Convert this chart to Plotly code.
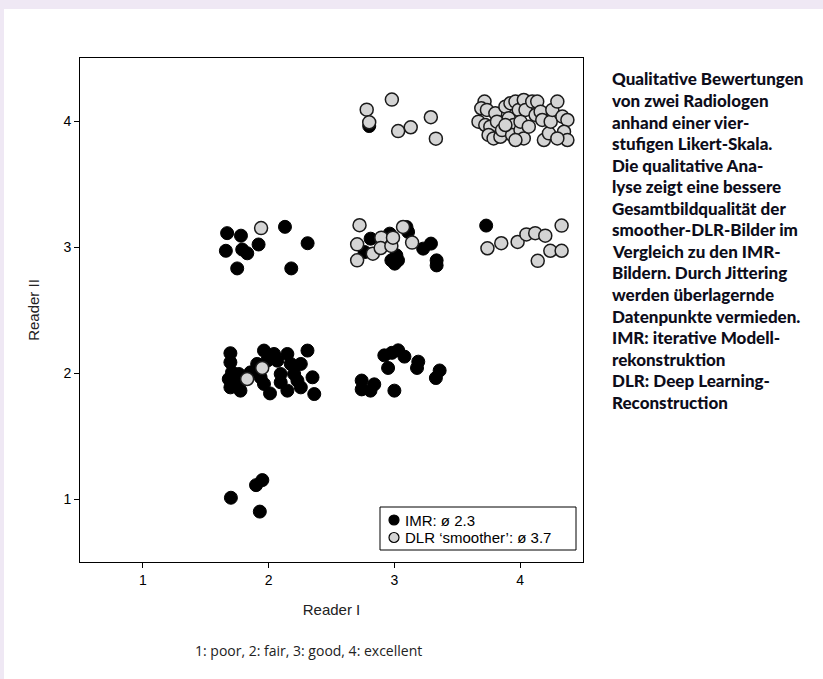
import plotly.graph_objects as go

# ---- data ----
imr_x = [1.70, 1.90, 1.95, 1.93,
         1.67, 1.78, 1.66, 1.79, 1.83, 1.92, 2.13, 2.31, 1.75, 2.18,
         1.696, 1.696, 1.709, 1.723, 1.696, 1.776, 1.763, 1.856, 1.909, 1.963, 1.989, 1.936, 1.963, 2.011,
         2.043, 2.096, 2.149, 2.176, 2.203, 2.229, 2.256, 2.309, 2.349, 2.363, 2.096, 2.149, 2.256, 2.069,
         1.776, 1.683,
         2.92, 2.98, 3.03, 3.08, 2.95, 3.19, 3.18, 3.36, 3.33, 2.74, 2.74, 2.84, 2.81, 3.00,
         2.811, 2.763, 2.963, 3.109, 2.976, 3.029, 3.016, 3.229, 3.291, 3.336, 3.336, 3.003, 3.096,
         3.73, 2.80]
imr_y = [1.01, 1.11, 1.15, 0.90,
         3.11, 3.09, 2.97, 2.98, 2.95, 3.02, 3.16, 3.03, 2.83, 2.83,
         2.157, 2.085, 2.005, 1.966, 1.886, 1.860, 1.992, 2.005, 2.072, 2.178, 2.098, 1.966, 1.913, 1.838,
         2.151, 1.992, 2.151, 2.072, 1.992, 1.939, 1.886, 2.178, 1.966, 1.833, 1.926, 1.860, 2.072, 2.098,
         1.939, 1.952,
         2.14, 2.16, 2.18, 2.13, 2.04, 2.09, 2.04, 2.02, 1.96, 1.94, 1.87, 1.91, 1.86, 1.86,
         3.066, 2.960, 3.106, 3.120, 2.894, 2.894, 2.934, 2.987, 3.027, 2.894, 2.854, 2.868, 3.159,
         3.17, 3.96]

dlr_x = [1.829, 1.949, 1.94,
         2.723, 2.704, 2.704, 2.829, 2.896, 2.891, 2.976, 2.989, 3.069, 3.141,
         3.74, 3.85, 3.98, 4.05, 4.12, 4.20, 4.33, 4.24, 4.33, 4.14,
         2.78, 2.80, 2.98, 3.03, 3.13, 3.29, 3.33,
         3.717, 3.691, 3.736, 3.669, 3.723, 3.763, 3.749, 3.803, 3.816, 3.789, 3.843, 3.856, 3.883, 3.923,
         3.909, 3.949, 3.936, 3.963, 3.989, 4.003, 4.029, 4.043, 4.029, 4.096, 4.136, 4.123, 4.163, 4.176,
         4.189, 4.229, 4.243, 4.256, 4.296, 4.336, 4.376, 4.349, 4.376, 4.296, 3.963, 4.003, 4.069, 3.883]
dlr_y = [1.952, 2.040, 3.15,
         3.173, 3.021, 2.894, 2.947, 3.074, 2.992, 3.008, 3.074, 3.159, 3.035,
         2.99, 3.03, 3.04, 3.10, 3.11, 3.09, 3.17, 2.97, 2.97, 2.89,
         4.09, 3.99, 4.17, 3.92, 3.95, 4.03, 3.86,
         4.154, 4.101, 4.088, 3.995, 3.968, 3.955, 3.889, 4.061, 3.995, 3.862, 3.875, 3.928, 4.114, 4.141,
         4.021, 3.968, 3.889, 4.154, 4.088, 3.928, 4.167, 4.088, 3.862, 4.154, 4.154, 4.048, 4.074, 4.008,
         3.849, 3.902, 3.995, 4.088, 4.154, 4.035, 4.008, 3.915, 3.849, 3.862, 3.849, 3.995, 3.955, 3.968]

tick_vals = [1, 2, 3, 4]
tick_text = ["1", "2", "3", "4"]
legend_names = ["IMR: ø 2.3", "DLR ‘smoother’: ø 3.7"]
caption = "1: poor, 2: fair, 3: good, 4: excellent"
side_lines = [
    "Qualitative Bewertungen",
    "von zwei Radiologen",
    "anhand einer vier-",
    "stufigen Likert-Skala.",
    "Die qualitative Ana-",
    "lyse zeigt eine bessere",
    "Gesamtbildqualität der",
    "smoother-DLR-Bilder im",
    "Vergleich zu den IMR-",
    "Bildern. Durch Jittering",
    "werden überlagernde",
    "Datenpunkte vermieden.",
    "IMR: iterative Modell-",
    "rekonstruktion",
    "DLR: Deep Learning-",
    "Reconstruction",
]

W, H = 823, 679
L, R, T, B = 80, 240, 58, 117
pw, ph = W - L - R, H - T - B

def px2x(px):
    return (px - L) / pw

def py2y(py):
    return (H - B - py) / ph

IMR_FILL, DLR_FILL = "black", "#d4d4d4"

fig = go.Figure()
fig.add_trace(go.Scatter(
    x=imr_x, y=imr_y, mode="markers", name=legend_names[0], showlegend=False,
    marker=dict(size=13, color=IMR_FILL, line=dict(color="black", width=1)),
))
fig.add_trace(go.Scatter(
    x=dlr_x, y=dlr_y, mode="markers", name=legend_names[1], showlegend=False,
    marker=dict(size=13, color=DLR_FILL, line=dict(color="#1a1a1a", width=1.5)),
))

axis_common = dict(
    range=[0.5, 4.5], tickvals=tick_vals, ticktext=tick_text,
    showgrid=False, zeroline=False, showline=True, linecolor="black", linewidth=1,
    mirror=True, ticks="outside", ticklen=5, tickcolor="black",
    tickfont=dict(family="Liberation Sans, Arial, sans-serif", size=14, color="black"),
)
fig.update_xaxes(**axis_common, title=dict(text="Reader I", standoff=17,
                 font=dict(family="Liberation Sans, Arial, sans-serif", size=15, color="#222")))
fig.update_yaxes(**axis_common, title=dict(text="Reader II", standoff=20,
                 font=dict(family="Liberation Sans, Arial, sans-serif", size=15, color="#222")))

LAV = "#efe8f4"
shapes = [
    dict(type="rect", xref="paper", yref="paper", x0=px2x(0), x1=px2x(W), y0=py2y(9), y1=py2y(0),
         fillcolor=LAV, line=dict(width=0), layer="below"),
    dict(type="rect", xref="paper", yref="paper", x0=px2x(0), x1=px2x(4), y0=py2y(H), y1=py2y(0),
         fillcolor=LAV, line=dict(width=0), layer="below"),
    # legend box
    dict(type="rect", xref="paper", yref="paper", x0=px2x(380), x1=px2x(576), y0=py2y(550), y1=py2y(507),
         fillcolor="white", line=dict(color="black", width=1), layer="above"),
]
annotations = [
    dict(text=caption, xref="paper", yref="paper", x=px2x(308), y=py2y(650),
         xanchor="center", yanchor="middle", showarrow=False,
         font=dict(family="Open Sans, DejaVu Sans, sans-serif", size=14, color="#222")),
]
# legend entries
for i, (name, fill) in enumerate(zip(legend_names, [IMR_FILL, DLR_FILL])):
    cy = 520 + i * 17.5
    shapes.append(dict(type="circle", xref="paper", yref="paper",
                       x0=px2x(389), x1=px2x(399), y0=py2y(cy + 5), y1=py2y(cy - 5),
                       fillcolor=fill, line=dict(color="black", width=1.2), layer="above"))
    annotations.append(dict(text=name, xref="paper", yref="paper", x=px2x(403), y=py2y(cy),
                            xanchor="left", yanchor="middle", showarrow=False,
                            font=dict(family="Liberation Sans, Arial, sans-serif", size=15, color="black")))

y0 = 79
for i, line in enumerate(side_lines):
    annotations.append(dict(
        text=line, xref="paper", yref="paper",
        x=px2x(610), y=py2y(y0 + i * 21.55), xanchor="left", yanchor="middle",
        showarrow=False,
        font=dict(family="Lato, Roboto, sans-serif", size=17, weight=900, color="#0d0d1a"),
    ))

fig.update_layout(
    width=W, height=H, margin=dict(l=L, r=R, t=T, b=B, pad=0),
    paper_bgcolor="white", plot_bgcolor="white",
    showlegend=False,
    shapes=shapes, annotations=annotations,
)

fig.write_html("out.html", config={"displayModeBar": False},
               post_script="document.body.style.margin='0';document.body.style.overflow='hidden';")
